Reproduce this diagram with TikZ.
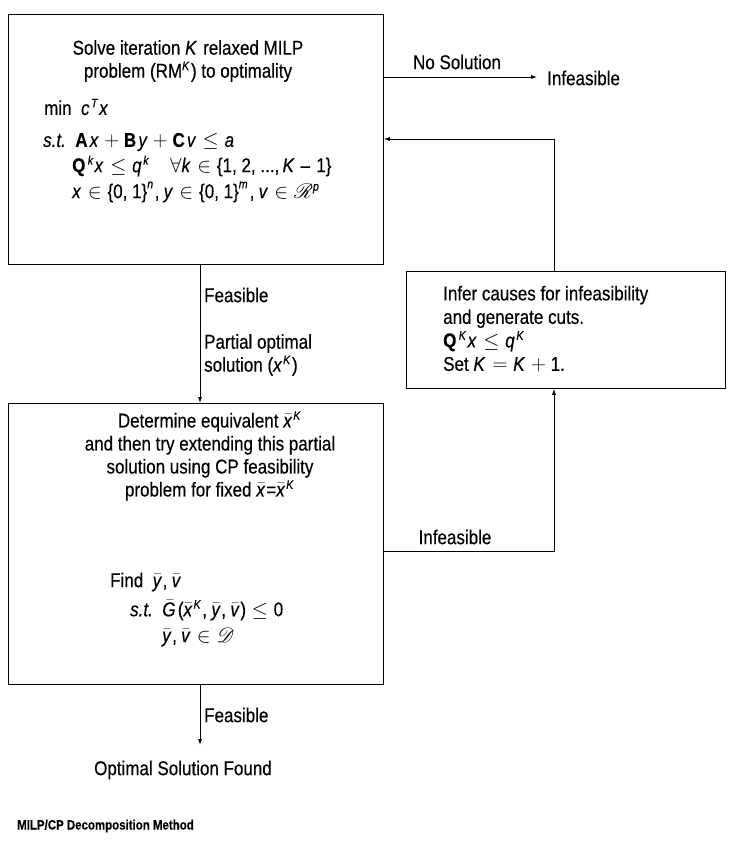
\documentclass[tikz,border=0pt]{standalone}
\usepackage{fontspec}
\setmainfont{Liberation Sans}[FakeStretch=0.85,FakeBold=0.3]
\usepackage{mathrsfs}
\usepackage[italic]{mathastext}
\usetikzlibrary{arrows.meta}
\DeclareMathSizes{20}{20}{12.5}{10}
\newcommand{\dg}[1]{\mbox{#1}}
\begin{document}
\begin{tikzpicture}[x=1pt,y=-1pt,
  font=\fontsize{20}{23}\selectfont,
  box/.style={draw,line width=0.8pt,inner sep=0pt,anchor=north west},
  txt/.style={inner sep=0pt,anchor=west},
  ctxt/.style={inner sep=0pt,align=center},
  arr/.style={line width=0.8pt,-{Latex[length=6pt,width=4pt]}}]
\useasboundingbox (0,0) rectangle (749,842);
% boxes
\node[box,minimum width=375pt,minimum height=250pt] (b1) at (8,14) {};
\node[box,minimum width=375pt,minimum height=281pt] (b2) at (8,403) {};
\node[box,minimum width=319pt,minimum height=117pt] (b3) at (406,271) {};
% box 1 text
\node[ctxt] (t1) at (188,61) {Solve iteration $K$ relaxed MILP\\problem (RM$^K$) to optimality};
\node[txt] (t1a) at (44,107) {min\ \ $c^T x$};
\node[txt] (t1b) at (43,142) {\textit{s.t.}\ \ $\mathbf{A}x+\mathbf{B}y+\mathbf{C}v\le a$};
\node[txt] (t1c) at (72,166) {$\mathbf{Q}^k x\le q^k\quad \forall k\in\dg{\{1, 2, ...,\,}K-\dg{1\}}$};
\node[txt] (t1d) at (72,192) {$x\in\dg{\{0, 1\}}^n, y\in\dg{\{0, 1\}}^m, v\in\mathscr{R}^p$};
% box 2 text
\node[ctxt] (t2) at (210,456) {Determine equivalent $\bar{x}^K$\\and then try extending this partial\\solution using CP feasibility\\problem for fixed $\bar{x}$=$\bar{x}^K$};
\node[txt] (t2a) at (110,582) {Find\ \ $\bar{y},\bar{v}$};
\node[txt] (t2b) at (130,610) {\textit{s.t.}\ \ $\bar{G}\dg{(}\bar{x}^K,\bar{y},\bar{v}\dg{)}\le \dg{0}$};
\node[txt] (t2c) at (162,637) {$\bar{y},\bar{v}\in\mathscr{D}$};
% box 3 text
\node[txt,align=left,font=\fontsize{20}{23.5}\selectfont] (t3) at (443,329) {Infer causes for infeasibility\\and generate cuts.\\$\mathbf{Q}^K x\le q^K$\\Set $K=K+\dg{1}$.};
% outside texts
\node[txt] (inf1) at (547,78) {Infeasible};
\node[ctxt] (nosol) at (457,62) {No Solution};
\node[txt] (fs1) at (204,295) {Feasible};
\node[txt,align=left] (pos) at (204,355) {Partial optimal\\solution ($x^K$)};
\node[ctxt] (inf2) at (455,537) {Infeasible};
\node[txt] (fs2) at (204,715) {Feasible};
\node[ctxt] (opt) at (183,770) {Optimal Solution Found};
\node[txt,font=\bfseries\fontsize{13.5}{15}\selectfont] (cap) at (17,826) {MILP/CP Decomposition Method};
% coordinates
\coordinate (vx) at (200,0);
\coordinate (c1) at (554,139);
\coordinate (c2) at (554,551);
\coordinate (e1) at (537,77);
\coordinate (e2) at (200,745);
% connectors
\draw[arr] (e1 -| b1.east) -- (e1);
\draw[arr] (b3.north -| c1) -- (c1) -- (c1 -| b1.east);
\draw[arr] (b1.south -| vx) -- (b2.north -| vx);
\draw[arr] (c2 -| b2.east) -- (c2) -- (b3.south -| c2);
\draw[arr] (b2.south -| vx) -- (e2);
\end{tikzpicture}
\end{document}
